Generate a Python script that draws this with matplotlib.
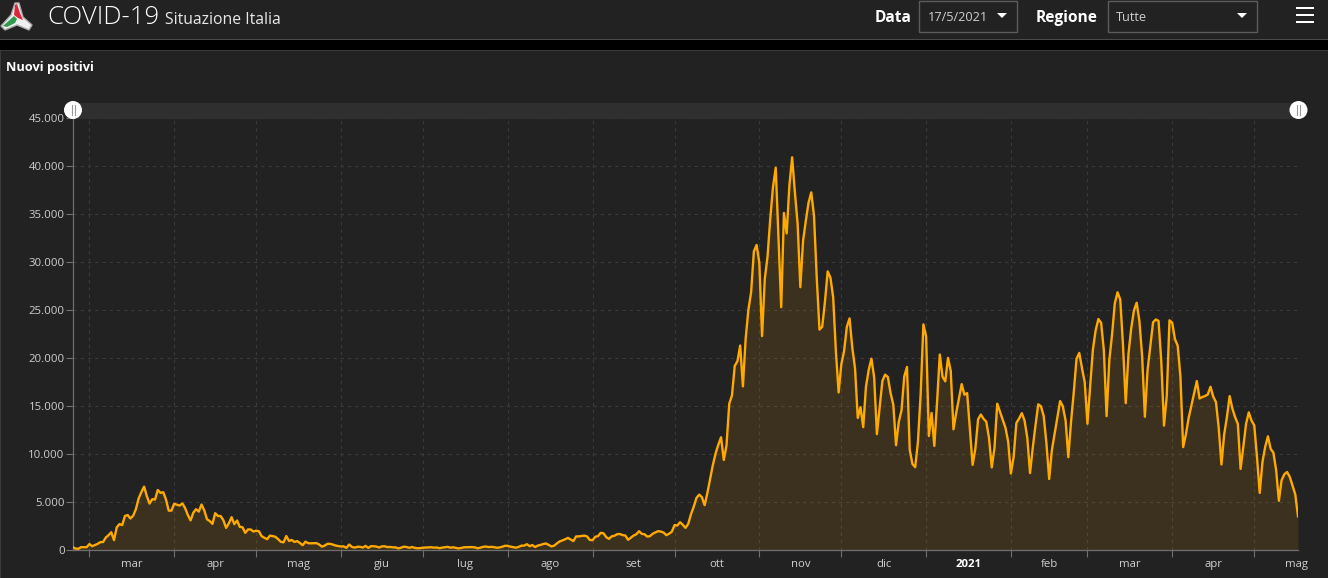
#!/usr/bin/env python3

import numpy as np
import pandas as pd
import matplotlib
matplotlib.use("Agg")
import matplotlib.pyplot as plt
import matplotlib.dates as mdates
from matplotlib.patches import Circle, Polygon, Rectangle
from matplotlib.ticker import FuncFormatter

plt.rcParams["font.family"] = ["Open Sans", "DejaVu Sans"]

# daily new positives, one list per month
feb_20 = [221, 93, 78, 250, 238, 240]
mar_20 = [566, 342, 466, 587, 769, 778, 1247, 1492, 1797, 977, 2313, 2651, 2547, 3497, 3590, 3233,
          3526, 4207, 5322, 5986, 6557, 5560, 4789, 5249, 5210, 6203, 5909, 5974, 5217, 4050, 4053]
apr_20 = [4782, 4668, 4585, 4805, 4316, 3599, 3039, 3836, 4204, 3951, 4694, 4092, 3153, 2972, 2667,
          3786, 3493, 3491, 3047, 2256, 2729, 3370, 2646, 3021, 2357, 2324, 1739, 2091, 2086, 1872]
may_20 = [1965, 1900, 1389, 1221, 1075, 1444, 1401, 1327, 1083, 802, 744, 1402, 888, 992, 789, 875,
          675, 451, 813, 665, 642, 652, 669, 531, 300, 397, 584, 593, 516, 416, 355]
jun_20 = [318, 321, 177, 518, 270, 197, 280, 283, 202, 379, 163, 346, 338, 301, 210, 329, 333, 251,
          262, 224, 221, 113, 190, 296, 259, 175, 259, 174, 126, 142]
jul_20 = [187, 201, 223, 235, 192, 208, 138, 193, 229, 276, 188, 234, 169, 114, 162, 230, 233, 230,
          249, 219, 128, 190, 282, 306, 252, 275, 246, 181, 212, 289, 386]
aug_20 = [379, 295, 239, 190, 274, 401, 402, 552, 347, 463, 259, 412, 481, 574, 629, 479, 320, 403,
          642, 845, 947, 1071, 1210, 1047, 878, 1367, 1366, 1411, 1444, 1365, 996]
sep_20 = [978, 1326, 1397, 1733, 1695, 1297, 1108, 1370, 1434, 1597, 1616, 1501, 1458, 1008, 1229,
          1452, 1585, 1907, 1638, 1587, 1350, 1392, 1640, 1786, 1912, 1869, 1766, 1494, 1648, 1851]
oct_20 = [2548, 2499, 2844, 2578, 2257, 2677, 3678, 4458, 5372, 5724, 5456, 4619, 5901, 7332, 8804,
          10010, 10925, 11705, 9338, 10874, 15199, 16079, 19143, 19644, 21273, 17012, 21994, 24991,
          26831, 31084, 31758]
nov_20 = [29907, 22253, 28244, 30550, 34505, 37809, 39811, 32616, 25271, 35098, 32961, 37978, 40902,
          37255, 33979, 27354, 32191, 34283, 36176, 37242, 34767, 28337, 22930, 23232, 25853, 29003,
          28352, 26323, 20648, 16377]
dec_20 = [19350, 20709, 23225, 24099, 21052, 18887, 13720, 14842, 12756, 16999, 18727, 19903, 17938,
          12030, 14844, 17572, 18236, 17992, 16308, 15104, 10872, 13318, 14522, 18040, 19037, 10407,
          8913, 8585, 11212, 16202, 23477]
jan_21 = [22211, 11831, 14245, 10800, 15378, 20331, 18020, 17533, 19978, 18627, 12532, 14242, 15774,
          17246, 16146, 16310, 12545, 8824, 10497, 13571, 14078, 13633, 13331, 11629, 8561, 10593,
          15204, 14372, 13574, 12715, 11252]
feb_21 = [7925, 9660, 13189, 13659, 14218, 13442, 11641, 7970, 10630, 12956, 15146, 14931, 13908,
          11068, 7351, 10386, 12074, 13762, 15479, 14931, 13452, 9630, 13314, 16424, 19886, 20499,
          18916, 17455]
mar_21 = [13114, 17083, 20884, 22865, 24036, 23641, 20765, 13902, 19749, 22409, 25673, 26824, 26062,
          21315, 15267, 20396, 23059, 24935, 25735, 23832, 20159, 13846, 18765, 21267, 23696, 23987,
          23839, 19611, 12916, 16017, 23904]
apr_21 = [23649, 21932, 21261, 18025, 10680, 12000, 13708, 15000, 16300, 17567, 15746, 15900, 16000,
          16168, 16974, 15943, 15370, 12694, 8864, 12000, 13800, 16000, 14700, 13800, 13100, 8400,
          10700, 13100, 14300, 13450]
may_21 = [12950, 9650, 5900, 9130, 10700, 11800, 10500, 10100, 8290, 5080, 7220, 7850, 8085, 7570,
          6660, 5750, 3455]

months = [feb_20, mar_20, apr_20, may_20, jun_20, jul_20, aug_20, sep_20, oct_20, nov_20, dec_20,
          jan_21, feb_21, mar_21, apr_21, may_21]
new_positive = np.concatenate(months)
start_date = "2020-02-24"

month_names = ["mar", "apr", "mag", "giu", "lug", "ago", "set", "ott", "nov", "dic",
               "2021", "feb", "mar", "apr", "mag"]
y_ticks = [0, 5000, 10000, 15000, 20000, 25000, 30000, 35000, 40000, 45000]

W, H = 1328, 578
BG = "#222222"
ORANGE = "#ffaa00"
GRID = "#3a3a3a"
AXIS = "#707070"
TEXT = "#cfcfcf"


def draw_chart(fig):
    """Area chart with the month axis."""
    left, right, top, bottom = 73, 1298, 118, 549.5
    ax = fig.add_axes([left / W, 1 - bottom / H, (right - left) / W, (bottom - top) / H])
    ax.patch.set_alpha(0)
    dates = pd.date_range(start_date, periods=len(new_positive), freq="D")
    ax.fill_between(dates, new_positive, 0, color=ORANGE, alpha=0.115, lw=0, zorder=2)
    ax.plot(dates, new_positive, color=ORANGE, lw=1.7, solid_joinstyle="round", zorder=3)
    ax.set_xlim(dates[0], dates[-1])
    ax.set_ylim(0, 45000)

    starts = pd.date_range("2020-03-01", periods=len(month_names) + 1, freq="MS")
    middles = [a + (b - a) / 2 for a, b in zip(starts[:-1], starts[1:])]
    ax.set_xticks(mdates.date2num(starts[:-1]))
    ax.set_xticklabels([])
    ax.set_xticks(mdates.date2num(middles), minor=True)
    ax.set_xticklabels(month_names, minor=True)
    ax.tick_params(axis="x", which="major", length=5, width=0.8, color=AXIS)
    ax.tick_params(axis="x", which="minor", length=0, pad=7, labelsize=8.2, labelcolor=TEXT)
    for label in ax.get_xticklabels(minor=True):
        if label.get_text() == "2021":
            label.set_fontweight("bold")
            label.set_color("white")

    ax.set_yticks(y_ticks)
    ax.yaxis.set_major_formatter(FuncFormatter(lambda v, _: f"{int(v):,}".replace(",", ".")))
    ax.tick_params(axis="y", length=5, width=0.8, color=AXIS, pad=1, labelsize=8.2, labelcolor=TEXT)

    ax.grid(True, which="major", color=GRID, lw=0.8, ls=(0, (3, 3.5)), zorder=1)
    for side in ["top", "right"]:
        ax.spines[side].set_visible(False)
    for side in ["left", "bottom"]:
        ax.spines[side].set_color(AXIS)
        ax.spines[side].set_linewidth(0.9)
    return ax


def draw_slider_handle(over, x):
    over.add_patch(Circle((x, 110), 9, fc="white", ec="none", zorder=5))
    over.plot([x - 1.5, x - 1.5], [105, 115], color="#9a9a9a", lw=0.8, zorder=6)
    over.plot([x + 1.5, x + 1.5], [105, 115], color="#9a9a9a", lw=0.8, zorder=6)


def draw_dropdown(over, x0, x1, text, text_x, arrow_x):
    over.add_patch(Rectangle((x0, 0.5), x1 - x0, 31, fc="none", ec="#5c5c5c", lw=1))
    over.text(text_x, 17.5, text, color=TEXT, fontsize=9.2, va="center", ha="left")
    over.add_patch(Polygon([(arrow_x - 5, 13), (arrow_x + 5, 13), (arrow_x, 18)], fc="white", ec="none"))


def draw_chrome(fig):
    """Header bar, panel title and range slider, all in pixel coordinates."""
    over = fig.add_axes([0, 0, 1, 1], zorder=5)
    over.set_xlim(0, W)
    over.set_ylim(H, 0)
    over.axis("off")

    over.add_patch(Rectangle((0, 39), W, 1, fc="#4a4a4a", ec="none"))
    over.add_patch(Rectangle((0, 40), W, 10, fc="black", ec="none"))
    over.add_patch(Rectangle((0, 50), W, 1, fc="#3a3a3a", ec="none"))
    over.add_patch(Rectangle((0, 50), 1, H - 50, fc="#3a3a3a", ec="none"))

    # logo
    over.add_patch(Polygon([(15, 3), (19, 3), (23, 17), (32, 25), (29, 30), (17, 25), (5, 30), (1, 26), (11, 15)],
                           fc="#f0f0f0", ec="#a8a8a8", lw=1, joinstyle="round"))
    over.add_patch(Polygon([(15, 5), (17, 4), (20, 13), (23, 20), (18, 18), (14, 15)], fc="#d9283c", ec="none"))
    over.add_patch(Polygon([(3, 26), (14, 16), (17, 19), (15, 23), (7, 27)], fc="#2f9a50", ec="none"))

    over.text(47, 18, "COVID-19", color="white", fontsize=18.5, fontweight="light", va="center", ha="left")
    over.text(165, 20.5, "Situazione Italia", color="#e8e8e8", fontsize=11.3, va="center", ha="left")
    over.text(875, 18, "Data", color="white", fontsize=11.2, fontweight="bold", va="center", ha="left")
    over.text(1036, 18, "Regione", color="white", fontsize=11.2, fontweight="bold", va="center", ha="left")
    draw_dropdown(over, 919, 1017, "17/5/2021", 928, 1002)
    draw_dropdown(over, 1108, 1257, "Tutte", 1116, 1242)
    for y in [8, 15, 22]:
        over.add_patch(Rectangle((1296, y - 1), 18, 2, fc="white", ec="none"))

    over.text(6, 67, "Nuovi positivi", color="white", fontsize=9.2, fontweight="bold", va="center", ha="left")

    over.add_patch(Rectangle((73, 103), 1225, 15.5, fc="#2f2f2f", ec="none"))
    draw_slider_handle(over, 73)
    draw_slider_handle(over, 1298.5)


if __name__ == "__main__":
    fig = plt.figure(figsize=(W / 100, H / 100), dpi=100, facecolor=BG)
    draw_chart(fig)
    draw_chrome(fig)
    fig.savefig("out.png", dpi=100, facecolor=BG)
